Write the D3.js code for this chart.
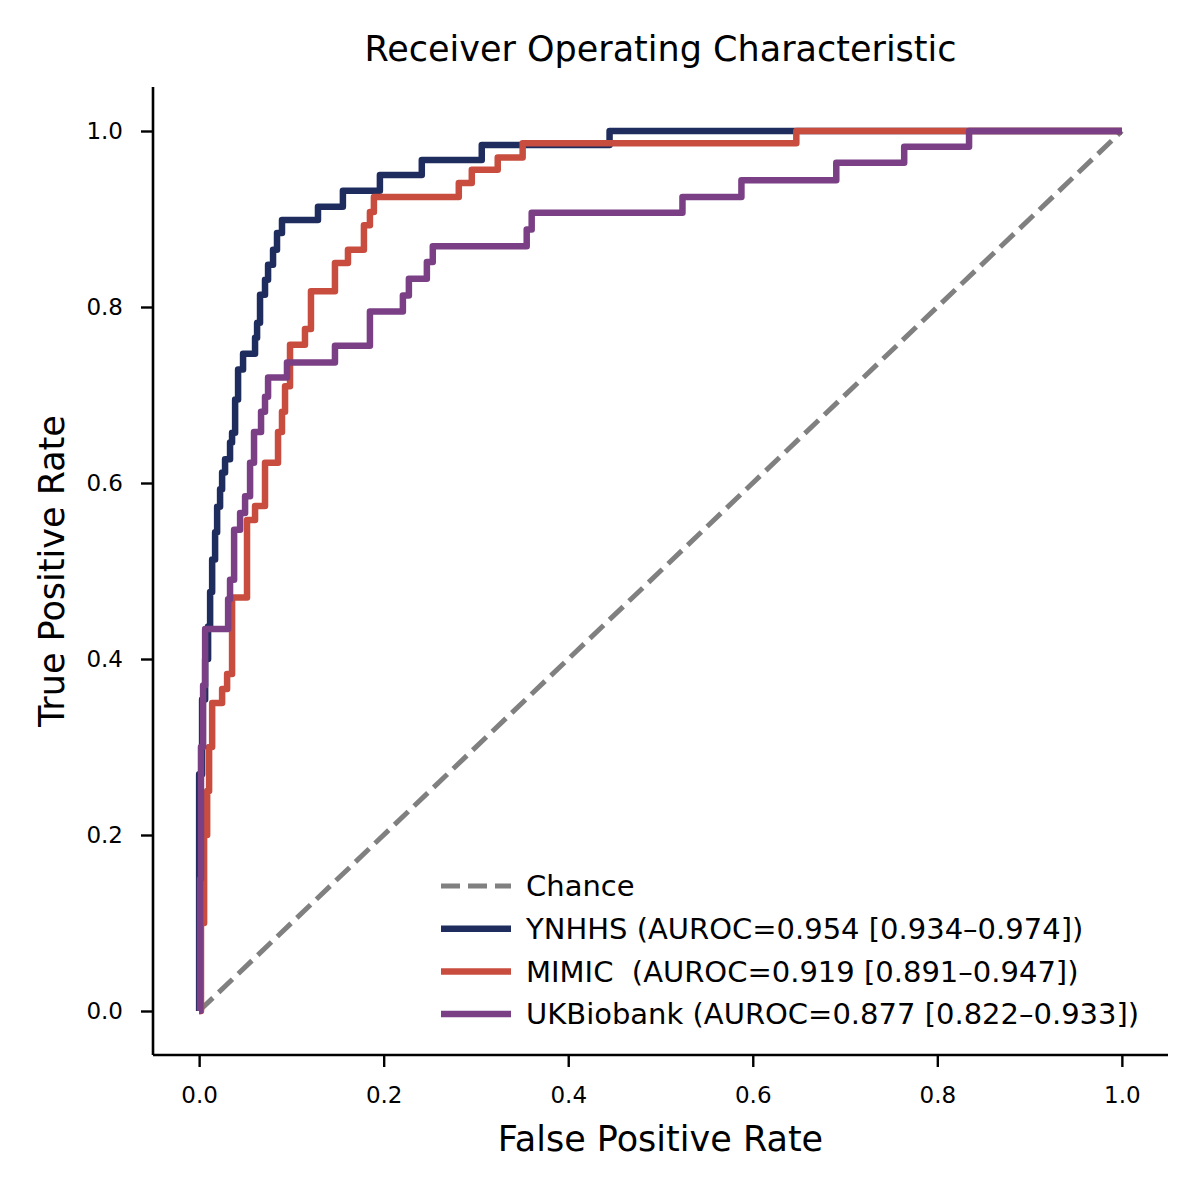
<!DOCTYPE html>
<html>
<head>
<meta charset="utf-8">
<script src="https://cdn.jsdelivr.net/npm/d3@7"></script>
<style>
    body { margin: 0; background: #fff; }
    svg { display: block; font-family: "DejaVu Sans", sans-serif; }
</style>
</head>
<body>
<svg id="chart" width="1200" height="1200"></svg>
<script>
// ROC knots: each (fpr, tpr) is the top of a vertical rise at that fpr
const ynhhsFpr = [0, 0, 0.0032, 0.0065, 0.0097, 0.0119, 0.0141, 0.0173, 0.0195, 0.0227, 0.0249, 0.0281, 0.0335, 0.0357, 0.039, 0.0422, 0.0476, 0.0606, 0.0628, 0.066, 0.0714, 0.0747, 0.0801, 0.0844, 0.0898, 0.1288, 0.1558, 0.1959, 0.2413, 0.3063, 0.4448, 1];
const ynhhsTpr = [0, 0.269, 0.354, 0.4, 0.437, 0.476, 0.513, 0.544, 0.573, 0.593, 0.612, 0.627, 0.646, 0.657, 0.695, 0.729, 0.747, 0.765, 0.782, 0.814, 0.831, 0.848, 0.865, 0.884, 0.899, 0.914, 0.932, 0.95, 0.967, 0.984, 1, 1];

const mimicFpr = [0, 0.002, 0.0054, 0.0087, 0.0108, 0.0141, 0.0249, 0.0303, 0.0357, 0.0519, 0.0606, 0.0714, 0.0855, 0.0898, 0.0931, 0.0985, 0.1147, 0.1212, 0.1472, 0.1613, 0.1786, 0.1851, 0.1894, 0.2814, 0.2955, 0.3236, 0.3506, 0.6472, 1];
const mimicTpr = [0, 0.1, 0.2, 0.25, 0.3, 0.35, 0.366, 0.383, 0.47, 0.558, 0.574, 0.623, 0.658, 0.681, 0.71, 0.757, 0.775, 0.818, 0.85, 0.865, 0.893, 0.908, 0.925, 0.941, 0.956, 0.97, 0.986, 1, 1];

const ukbFpr = [0, 0.001, 0.002, 0.0043, 0.0065, 0.0314, 0.0335, 0.0379, 0.0444, 0.0498, 0.0552, 0.0595, 0.0671, 0.0714, 0.0747, 0.0952, 0.1472, 0.1851, 0.2208, 0.2273, 0.2468, 0.2532, 0.355, 0.3604, 0.5238, 0.5877, 0.6905, 0.7641, 0.8344, 1];
const ukbTpr = [0, 0.15, 0.3, 0.37, 0.434, 0.468, 0.49, 0.547, 0.566, 0.585, 0.623, 0.658, 0.681, 0.698, 0.72, 0.737, 0.756, 0.795, 0.813, 0.832, 0.851, 0.869, 0.888, 0.907, 0.925, 0.944, 0.964, 0.982, 1, 1];

const chanceFpr = [0, 1];
const chanceTpr = [0, 1];

const seriesNames = ["YNHHS", "MIMIC", "UKBiobank"];
const seriesLabels = [
    "YNHHS (AUROC=0.954 [0.934\u20130.974])",
    "MIMIC\u00a0 (AUROC=0.919 [0.891\u20130.947])",
    "UKBiobank (AUROC=0.877 [0.822\u20130.933])"
];
const seriesColors = ["#1f2d5e", "#c84d3e", "#7b3f86"];
const tickValues = [0, 0.2, 0.4, 0.6, 0.8, 1.0];

const svg = d3.select('#chart');

const margin = {left: 153, right: 1168, top: 87, bottom: 1055};

const x = d3.scaleLinear().domain([-0.05, 1.05]).range([margin.left, margin.right]);
const y = d3.scaleLinear().domain([-0.05, 1.05]).range([margin.bottom, margin.top]);

// Axes
const xAxis = svg.append('g')
    .attr('transform', 'translate(0,' + margin.bottom + ')')
    .call(d3.axisBottom(x).tickValues(tickValues).tickFormat(d3.format('.1f')).tickSizeOuter(0).tickSize(12).tickPadding(20));
const yAxis = svg.append('g')
    .attr('transform', 'translate(' + margin.left + ',0)')
    .call(d3.axisLeft(y).tickValues(tickValues).tickFormat(d3.format('.1f')).tickSizeOuter(0).tickSize(12).tickPadding(18));

[xAxis, yAxis].forEach(ax => {
    ax.select('.domain').attr('stroke', '#000').attr('stroke-width', 2.6);
    ax.selectAll('.tick line').attr('stroke', '#000').attr('stroke-width', 2.4);
    ax.selectAll('.tick text')
        .attr('fill', '#000')
        .style('font-size', '23px')
        .style('font-family', '"DejaVu Sans", sans-serif');
});
// extend spines to full range with no outer ticks
xAxis.select('.domain').attr('d', 'M' + margin.left + ',0H' + margin.right);
yAxis.select('.domain').attr('d', 'M0,' + margin.bottom + 'V' + margin.top);

const points = (xs, ys) => xs.map((v, i) => [v, ys[i]]);
const straight = d3.line().x(d => x(d[0])).y(d => y(d[1]));
const stepped = d3.line().x(d => x(d[0])).y(d => y(d[1])).curve(d3.curveStepAfter);

// Chance line
svg.append('path')
    .datum(points(chanceFpr, chanceTpr))
    .attr('d', straight)
    .attr('fill', 'none')
    .attr('stroke', '#808080')
    .attr('stroke-width', 5)
    .attr('stroke-dasharray', '19,8');

// ROC curves
const curves = [
    points(ynhhsFpr, ynhhsTpr),
    points(mimicFpr, mimicTpr),
    points(ukbFpr, ukbTpr)
];
curves.forEach((c, i) => {
    svg.append('path')
        .datum(c)
        .attr('class', 'roc ' + seriesNames[i])
        .attr('d', stepped)
        .attr('fill', 'none')
        .attr('stroke', seriesColors[i])
        .attr('stroke-width', 6.5)
        .attr('stroke-linejoin', 'round')
        .attr('stroke-linecap', 'butt');
});

// Legend
const legend = svg.append('g').attr('transform', 'translate(441,886)');
const rowGap = 42.7;
const legendRows = [{label: 'Chance', color: '#808080', dash: '19,8', width: 5}]
    .concat(seriesLabels.map((l, i) => ({label: l, color: seriesColors[i], dash: null, width: 6.5})));
legendRows.forEach((r, i) => {
    const g = legend.append('g').attr('transform', 'translate(0,' + (i * rowGap) + ')');
    g.append('line')
        .attr('x1', 0).attr('x2', 70)
        .attr('y1', 0).attr('y2', 0)
        .attr('stroke', r.color)
        .attr('stroke-width', r.width)
        .attr('stroke-dasharray', r.dash);
    g.append('text')
        .attr('x', 85)
        .attr('y', 0)
        .attr('dy', '0.35em')
        .style('font-size', '29px')
        .attr('fill', '#000')
        .text(r.label);
});

// Title and axis labels
svg.append('text')
    .attr('x', (margin.left + margin.right) / 2)
    .attr('y', 61)
    .attr('text-anchor', 'middle')
    .style('font-size', '35px')
    .text('Receiver Operating Characteristic');

svg.append('text')
    .attr('x', (margin.left + margin.right) / 2)
    .attr('y', 1151)
    .attr('text-anchor', 'middle')
    .style('font-size', '35px')
    .text('False Positive Rate');

svg.append('text')
    .attr('transform', 'translate(64,' + ((margin.top + margin.bottom) / 2) + ') rotate(-90)')
    .attr('text-anchor', 'middle')
    .style('font-size', '35px')
    .text('True Positive Rate');
</script>
</body>
</html>
